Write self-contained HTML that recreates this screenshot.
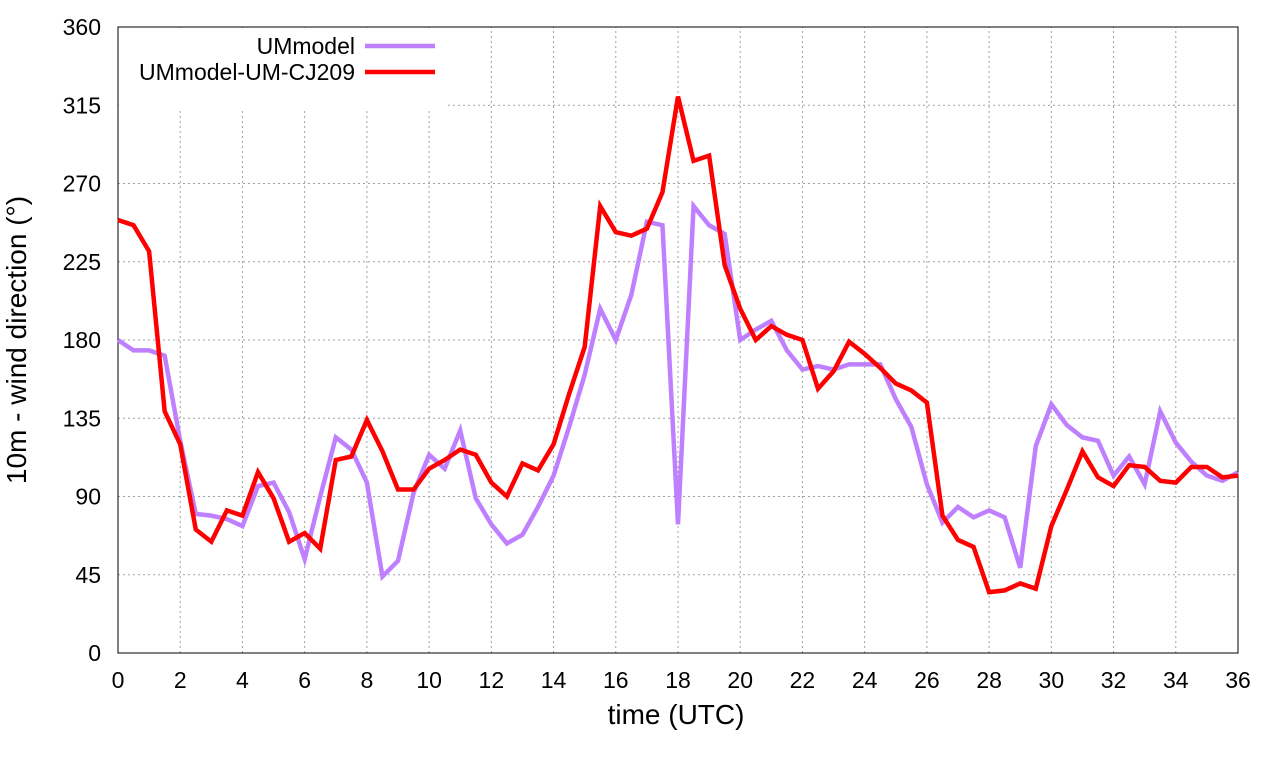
<!DOCTYPE html>
<html><head><meta charset="utf-8"><style>
body{margin:0;background:#fff}
svg{display:block;font-family:"Liberation Sans",sans-serif}
</style></head><body>
<svg id="chart" width="1280" height="760"></svg>
<script>
const xTicks=[0,2,4,6,8,10,12,14,16,18,20,22,24,26,28,30,32,34,36];
const yTicks=[0,45,90,135,180,225,270,315,360];
const times=[];for(let i=0;i<=72;i++)times.push(i*0.5);
const umModel=[180,174,174,171,122,80,79,77,73,96,98,81,54,90,124,117,98,44,53,92,114,106,128,89,74,63,68,84,102,130,160,198,180,206,248,246,74,257,246,241,180,186,191,174,163,165,163,166,166,166,146,130,97,75,84,78,82,78,49,119,143,131,124,122,102,113,97,139,121,110,102,99,104];
const umCJ209=[249,246,231,139,120,71,64,82,79,104,89,64,69,60,111,113,134,116,94,94,106,111,117,114,98,90,109,105,120,149,176,257,242,240,244,265,320,283,286,223,198,180,188,183,180,152,162,179,172,164,155,151,144,79,65,61,35,36,40,37,73,94,116,101,96,108,107,99,98,107,107,101,102];
const X0=118,X1=1238,Y0=653,Y1=27;
const sx=v=>X0+(v-0)/36*(X1-X0);
const sy=v=>Y0-(v/360)*(Y0-Y1);
const svg=document.getElementById('chart');
const NS='http://www.w3.org/2000/svg';
function mk(t,a,p){const e=document.createElementNS(NS,t);for(const k in a)e.setAttribute(k,a[k]);(p||svg).appendChild(e);return e;}
xTicks.forEach(v=>{
 const l=mk('line',{x1:sx(v),x2:sx(v),y1:Y0,y2:Y1,stroke:'#a0a0a0','stroke-dasharray':'2,3','stroke-width':1});
 
 
 const t=mk('text',{x:sx(v),y:Y0+35,'text-anchor':'middle','font-size':23,fill:'#000'});t.textContent=v;
 
 
});
yTicks.forEach(v=>{
 const l=mk('line',{x1:X0,x2:X1,y1:sy(v),y2:sy(v),stroke:'#a0a0a0','stroke-dasharray':'2,3','stroke-width':1});
 
 
 const t=mk('text',{x:X0-17,y:sy(v)+8,'text-anchor':'end','font-size':23,fill:'#000'});t.textContent=v;
 
 
});
const lg=mk('rect',{x:119,y:28,width:328,height:82,fill:'#fff'});


const frame=mk('rect',{x:X0,y:Y1,width:X1-X0,height:Y0-Y1,fill:'none',stroke:'#000','stroke-width':1});


function series(d,c,name){
 const p=mk('polyline',{points:d.map((v,i)=>sx(times[i])+','+sy(v)).join(' '),fill:'none',stroke:c,'stroke-width':4.5,'stroke-linejoin':'miter'});
 
 
}
series(umModel,'#bf80ff','series-ummodel');
series(umCJ209,'#ff0000','series-ummodel-um-cj209');
[['UMmodel','#bf80ff',46],['UMmodel-UM-CJ209','#ff0000',72]].forEach(([n,c,y])=>{
 const t=mk('text',{x:355,y:y+8,'text-anchor':'end','font-size':23});t.textContent=n;
 
 
 const l=mk('line',{x1:365,x2:435,y1:y,y2:y,stroke:c,'stroke-width':4.5});
 
 
});
const xt=mk('text',{x:676,y:724,'text-anchor':'middle','font-size':28});xt.textContent='time (UTC)';


const yt=mk('text',{x:0,y:0,'text-anchor':'middle','font-size':28,transform:'translate(26,340) rotate(-90)'});yt.textContent='10m - wind direction (°)';


</script>
</body></html>
